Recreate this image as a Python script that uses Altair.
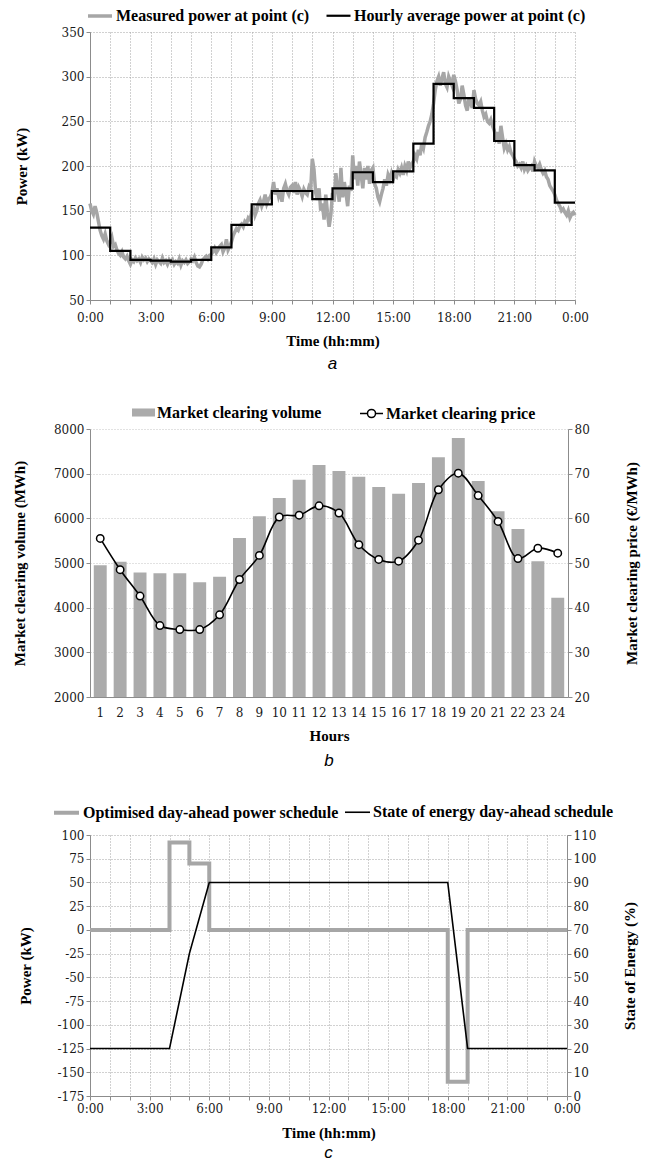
import altair as alt
import pandas as pd

# ---------------------------------------------------------------
# (a) Load at point (c): 5-minute measured power and hourly means
# ---------------------------------------------------------------
measured_kw = [
    158, 150, 146, 155, 148, 138, 128, 122, 118, 124, 116, 112,   # 0:00
    115, 120, 110, 112, 106, 102, 100, 104, 98, 96, 99, 94,       # 1:00
    90, 95, 93, 97, 94, 96, 92, 98, 95, 97, 93, 96,               # 2:00
    94, 92, 96, 90, 95, 93, 91, 97, 92, 94, 90, 95,               # 3:00
    92, 95, 90, 93, 91, 96, 89, 94, 92, 95, 91, 93,               # 4:00
    96, 94, 98, 92, 88, 87, 90, 95, 97, 99, 96, 100,              # 5:00
    101, 104, 108, 103, 106, 110, 112, 104, 108, 118, 106, 110,   # 6:00
    115, 122, 126, 130, 128, 133, 135, 132, 138, 136, 142, 140,   # 7:00
    148, 155, 145, 150, 158, 162, 155, 160, 168, 158, 163, 165,   # 8:00
    170, 182, 168, 175, 166, 172, 160, 175, 180, 172, 168, 176,   # 9:00
    178, 170, 182, 168, 176, 172, 166, 174, 170, 168, 176, 172,   # 10:00
    208, 196, 170, 162, 175, 150, 158, 140, 168, 148, 132, 145,   # 11:00
    170, 160, 192, 175, 160, 198, 165, 182, 170, 155, 178, 172,   # 12:00
    212, 185, 200, 178, 205, 190, 175, 198, 185, 200, 180, 195,   # 13:00
    198, 180, 175, 165, 160, 168, 175, 185, 178, 190, 185, 192,   # 14:00
    185, 190, 188, 196, 192, 198, 190, 200, 195, 205, 198, 202,   # 15:00
    205, 212, 208, 218, 212, 225, 220, 232, 238, 245, 250, 258,   # 16:00
    270, 285, 295, 300, 290, 298, 305, 292, 288, 300, 295, 290,   # 17:00
    302, 295, 285, 270, 275, 290, 280, 268, 262, 275, 270, 265,   # 18:00
    285, 275, 270, 268, 272, 262, 255, 258, 250, 248, 252, 245,   # 19:00
    240, 232, 238, 225, 245, 232, 220, 225, 218, 222, 215, 212,   # 20:00
    208, 205, 200, 202, 198, 205, 196, 200, 195, 198, 200, 194,   # 21:00
    205, 200, 198, 202, 196, 192, 195, 188, 185, 178, 175, 172,   # 22:00
    168, 162, 158, 155, 150, 152, 148, 145, 150, 142, 146, 148,   # 23:00
    145,                                                          # 24:00
]
hourly_avg_kw = [131, 105, 95, 94, 93, 95, 109, 134, 157, 172, 172, 163,
                 175, 193, 182, 194, 225, 292, 276, 265, 228, 201, 195, 159]
series_a = ["Measured power at point (c)", "Hourly average power at point (c)"]

# ---------------------------------------------------------------
# (b) Day-ahead market: clearing volume and price per hour
# ---------------------------------------------------------------
hours = list(range(1, 25))
volume_mwh = [4950, 5030, 4790, 4770, 4770, 4570, 4690, 5560, 6045, 6455, 6866, 7194,
              7060, 6933, 6701, 6552, 6791, 7366, 7800, 6836, 6157, 5761, 5037, 4224]
price_eur_mwh = [55.5, 48.5, 42.6, 36.0, 35.1, 35.1, 38.4, 46.3, 51.7, 60.3, 60.7, 62.8,
                 61.2, 54.1, 50.8, 50.4, 55.1, 66.4, 70.1, 65.1, 59.3, 51.0, 53.3, 52.2]
series_b = ["Market clearing volume", "Market clearing price"]

# ---------------------------------------------------------------
# (c) Storage schedule: hourly power set-points, SoE at hour marks
# ---------------------------------------------------------------
power_schedule_kw = [0, 0, 0, 0, 92, 70, 0, 0, 0, 0, 0, 0,
                     0, 0, 0, 0, 0, 0, -160, 0, 0, 0, 0, 0]
soe_pct = [20, 20, 20, 20, 20, 60, 90, 90, 90, 90, 90, 90, 90,
           90, 90, 90, 90, 90, 90, 20, 20, 20, 20, 20, 20]
series_c = ["Optimised day-ahead power schedule", "State of energy day-ahead schedule"]

# ---------------------------------------------------------------
# styling helpers
# ---------------------------------------------------------------
SERIF = "Liberation Serif"
NUM = "DejaVu Serif, Liberation Serif, serif"
AX_GRAY = "#8c8c8c"
GRID = "#a3a3a3"
LINE_GRAY = "#a6a6a6"
BAR_GRAY = "#ababab"
HYPHEN_LABEL = "datum.value < 0 ? '-' + format(-datum.value, 'd') : format(datum.value, 'd')"


def axis(**kw):
    base = dict(labelFont=NUM, labelFontSize=12, labelColor="#1a1a1a",
                titleFont=SERIF, titleFontSize=15, titleFontWeight="bold",
                titleColor="black", domainColor=AX_GRAY, domainWidth=1,
                tickColor=AX_GRAY, tickSize=4, gridColor=GRID,
                gridDash=[1, 2], gridWidth=1)
    base.update(kw)
    return alt.Axis(**base)


def legend(x, y, **kw):
    base = dict(orient="none", direction="horizontal", legendX=x, legendY=y,
                title=None, labelFont=SERIF, labelFontWeight="bold",
                labelFontSize=16, labelColor="black", labelOffset=2,
                labelLimit=0, columnPadding=14)
    base.update(kw)
    return alt.Legend(**base)


def caption(letter, offset):
    return alt.TitleParams(letter, orient="bottom", font="Liberation Sans",
                           fontSize=17, fontStyle="italic", fontWeight="normal",
                           color="black", anchor="middle", frame="group",
                           offset=offset)


TIME_LABEL = "datum.value % 3 == 0 ? format(datum.value % 24, 'd') + ':00' : ''"


def time_x(label_pad, title_pad):
    return alt.X("t:Q", scale=alt.Scale(domain=[0, 24], nice=False, zero=False),
                 axis=axis(values=list(range(25)), labelExpr=TIME_LABEL,
                           title="Time (hh:mm)", grid=True, labelFlush=False,
                           labelOverlap=False, labelPadding=label_pad,
                           titlePadding=title_pad))


# ---------------------------------------------------------------
# panel (a)
# ---------------------------------------------------------------
meas_df = pd.DataFrame({"t": [i / 12 for i in range(len(measured_kw))],
                        "kw": measured_kw, "series": series_a[0]})
avg_df = pd.DataFrame({"t": list(range(len(hourly_avg_kw) + 1)),
                       "kw": hourly_avg_kw + hourly_avg_kw[-1:],
                       "series": series_a[1]})

leg_a = legend(-4, -30, symbolType="stroke", symbolSize=576, columnPadding=12)
x_a = time_x(8, 10)
y_a = alt.Y("kw:Q", scale=alt.Scale(domain=[50, 350], nice=False, zero=False),
            axis=axis(values=list(range(50, 351, 50)), title="Power (kW)",
                      grid=True, titlePadding=32))
color_a = alt.Color("series:N", scale=alt.Scale(domain=series_a, range=[LINE_GRAY, "black"]),
                    legend=leg_a)
width_a = alt.StrokeWidth("series:N", scale=alt.Scale(domain=series_a, range=[3.5, 2.2]),
                          legend=leg_a)

meas_line = alt.Chart(meas_df).mark_line().encode(
    x=x_a, y=y_a, color=color_a, strokeWidth=width_a)
avg_line = alt.Chart(avg_df).mark_line(interpolate="step-after").encode(
    x=x_a, y=y_a, color=color_a, strokeWidth=width_a)

panel_a = alt.layer(meas_line, avg_line).properties(
    width=485, height=268, title=caption("a", 8))

# ---------------------------------------------------------------
# panel (b)
# ---------------------------------------------------------------
mkt_df = pd.DataFrame({"hour": hours, "volume": volume_mwh, "price": price_eur_mwh,
                       "vol_series": series_b[0], "price_series": series_b[1]})

x_b = alt.X("hour:O", scale=alt.Scale(paddingInner=0.35, paddingOuter=0.19),
            axis=axis(labelAngle=0, ticks=False, title="Hours", labelPadding=10,
                      titlePadding=10))
y_vol = alt.Y("volume:Q", scale=alt.Scale(domain=[2000, 8000], nice=False, zero=False),
              axis=axis(values=list(range(2000, 8001, 1000)), format="d",
                        title="Market clearing volume (MWh)", grid=True,
                        gridColor="#c4c4c4", titlePadding=26))
y_price = alt.Y("price:Q", scale=alt.Scale(domain=[20, 80], nice=False, zero=False),
                axis=axis(orient="right", values=list(range(20, 81, 10)),
                          title="Market clearing price (€/MWh)", grid=False,
                          titleAngle=270, titlePadding=50))

bars = alt.Chart(mkt_df).mark_bar(clip=True).encode(
    x=x_b, y=y_vol,
    color=alt.Color("vol_series:N",
                    scale=alt.Scale(domain=series_b[:1], range=[BAR_GRAY]),
                    legend=legend(42, -28, symbolType="M-1,-0.35H1V0.35H-1Z",
                                  symbolSize=529, symbolStrokeWidth=0)))
price_line = alt.Chart(mkt_df).mark_line(strokeWidth=1.6, interpolate="catmull-rom").encode(
    x=x_b, y=y_price,
    stroke=alt.Stroke("price_series:N",
                      scale=alt.Scale(domain=series_b[1:], range=["black"]),
                      legend=legend(269, -28,
                                    symbolType="M-1,0H-0.35M0.35,0H1M-0.35,0A0.35,0.35 0 1,1 0.35,0A0.35,0.35 0 1,1 -0.35,0",
                                    symbolSize=529, symbolStrokeWidth=1.5,
                                    symbolFillColor="white")))
price_pts = alt.Chart(mkt_df).mark_point(shape="circle", filled=True, fill="white",
                                         stroke="black", strokeWidth=1.5, size=55,
                                         opacity=1).encode(x=x_b, y=y_price)

panel_b = alt.layer(bars, alt.layer(price_line, price_pts)).resolve_scale(
    y="independent").properties(width=478, height=268, title=caption("b", 10))

# ---------------------------------------------------------------
# panel (c)
# ---------------------------------------------------------------
pow_df = pd.DataFrame({"t": list(range(len(power_schedule_kw) + 1)),
                       "kw": power_schedule_kw + power_schedule_kw[-1:],
                       "series": series_c[0]})
soe_df = pd.DataFrame({"t": list(range(len(soe_pct))), "soe": soe_pct,
                       "series": series_c[1]})

leg_c = legend(-38, -37, symbolType="stroke", symbolSize=625, columnPadding=2)
x_c = time_x(3, 11)
color_c = alt.Color("series:N", scale=alt.Scale(domain=series_c, range=[LINE_GRAY, "black"]),
                    legend=leg_c)
width_c = alt.StrokeWidth("series:N", scale=alt.Scale(domain=series_c, range=[4, 1.6]),
                          legend=leg_c)
y_pow = alt.Y("kw:Q", scale=alt.Scale(domain=[-175, 100], nice=False, zero=False),
              axis=axis(values=list(range(-175, 101, 25)), labelExpr=HYPHEN_LABEL,
                        title="Power (kW)", grid=True, titlePadding=24))
y_soe = alt.Y("soe:Q", scale=alt.Scale(domain=[0, 110], nice=False, zero=False),
              axis=axis(orient="right", values=list(range(0, 111, 10)),
                        title="State of Energy (%)", grid=False, titleAngle=270,
                        titlePadding=42))

pow_line = alt.Chart(pow_df).mark_line(interpolate="step-after").encode(
    x=x_c, y=y_pow, color=color_c, strokeWidth=width_c)
soe_line = alt.Chart(soe_df).mark_line().encode(
    x=x_c, y=y_soe, color=color_c, strokeWidth=width_c)

panel_c = alt.layer(pow_line, soe_line).resolve_scale(y="independent").properties(
    width=477, height=261, title=caption("c", 5))

chart = alt.vconcat(panel_a, panel_b, panel_c, spacing=29).resolve_scale(
    x="independent", color="independent", stroke="independent",
    strokeWidth="independent",
).resolve_legend(
    color="independent", stroke="independent", strokeWidth="independent",
).properties(
    padding={"left": 12, "top": 2, "right": 5, "bottom": 2},
    background="white",
).configure_view(stroke=None)

chart.save("out.html", embed_options={"renderer": "svg", "actions": False})
